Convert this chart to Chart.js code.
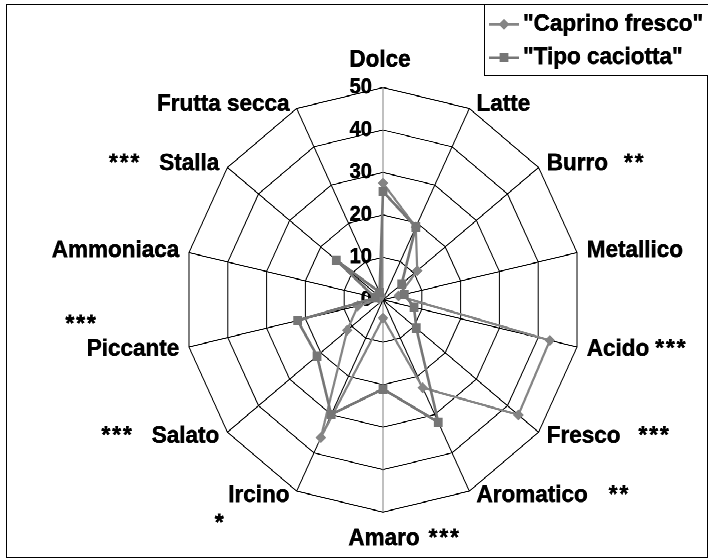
<!DOCTYPE html>
<html>
<head>
<meta charset="utf-8">
<script src="https://cdn.jsdelivr.net/npm/chart.js@4.4.1/dist/chart.umd.min.js"></script>
<style>
html, body { margin: 0; padding: 0; background: #fff; overflow: hidden; }
#wrap { position: absolute; left: 0; top: 0; width: 708px; height: 523px;
        transform: scaleY(1.066922); transform-origin: 0 0; background: #fff; }
canvas { display: block; }
</style>
</head>
<body>
<div id="wrap"><canvas id="c" width="708" height="523"></canvas></div>
<script>
// ---- data ----
const categories = ["Dolce", "Latte", "Burro", "Metallico", "Acido", "Fresco", "Aromatico",
                    "Amaro", "Ircino", "Salato", "Piccante", "Ammoniaca", "Stalla", "Frutta secca"];
const significance = ["", "", "**", "", "***", "***", "**", "***", "*", "***", "***", "", "***", ""];
const seriesNames = ['"Caprino fresco"', '"Tipo caciotta"'];
const caprinoFresco = [27.5, 19, 11, 4, 43, 43.5, 23, 4.3, 36, 11.5, 6.5, 1, 2, 1];
const tipoCaciotta  = [25.5, 19, 6, 5.5, 8, 10.7, 32, 21, 30, 21.2, 22, 2, 15, 2];
const tickValues = [0, 10, 20, 30, 40, 50];
const tickLabels = ["0", "10", "20", "30", "40", "50"];

// ---- styling ----
const FAMILY = '"Liberation Sans", Arial, Helvetica, sans-serif';
const LABEL_FONT = 'bold 22.5px ' + FAMILY;
const TICK_SIZE = 20;
const COLORS = ['#858585', '#767676'];

const mctx = document.createElement('canvas').getContext('2d');
mctx.font = 'bold ' + TICK_SIZE + 'px ' + FAMILY;
function padTick(label) {
  const w = mctx.measureText(label).width;
  const sp = mctx.measureText(' ').width;
  const n = Math.max(0, Math.round((w + 23) / sp));
  return label + ' '.repeat(n);
}

const MARK_GAP = { "Burro": 16, "Acido": 6, "Fresco": 18, "Aromatico": 21, "Amaro": 9, "Salato": 18, "Stalla": 18 };
const MARK_PLACE = { "Piccante": "above", "Ircino": "below" };

function boldText(ctx, txt, x, y) {
  ctx.fillText(txt, x, y);
  ctx.strokeText(txt, x, y);
}

const overlay = {
  id: 'overlay',
  afterDraw(chart) {
    const s = chart.scales.r;
    const ctx = chart.ctx;
    ctx.save();
    // outer frame
    ctx.strokeStyle = '#000';
    ctx.lineWidth = 1;
    ctx.strokeRect(6.5, 4.5, 701, 518);

    // category labels + significance marks
    ctx.fillStyle = '#000';
    ctx.strokeStyle = '#000';
    ctx.lineWidth = 0.5;
    ctx.font = LABEL_FONT;
    ctx.textBaseline = 'middle';
    ctx.textAlign = 'left';
    const markWidth = (m) => {
      ctx.letterSpacing = '2px';
      const w = ctx.measureText(m).width;
      ctx.letterSpacing = '0px';
      return w;
    };
    const drawMark = (m, x, y) => {
      ctx.letterSpacing = '2px';
      boldText(ctx, m, x, y);
      ctx.letterSpacing = '0px';
    };
    categories.forEach((name, i) => {
      const th = s.getIndexAngle(i);
      const p = s.getPointPosition(i, s.drawingArea);
      const sx = Math.sin(th), cy = -Math.cos(th);
      const mark = significance[i];
      const w = ctx.measureText(name).width;
      const mw = mark ? markWidth(mark) : 0;
      const gap = MARK_GAP[name] !== undefined ? MARK_GAP[name] : 16;
      let left, y;
      if (Math.abs(sx) < 0.01) {
        y = p.y + (cy < 0 ? -25.5 : 25);
        left = p.x - w / 2 + (cy < 0 ? -3 : 1);
        boldText(ctx, name, left, y);
        if (mark) drawMark(mark, left + w + gap, y);
      } else {
        const dx = 7 + 3 * Math.pow(Math.abs(sx), 4);
        const dy = Math.sign(cy) * Math.min(3.8, 9 * Math.abs(cy));
        y = p.y + dy;
        if (sx > 0) {
          left = p.x + dx;
          boldText(ctx, name, left, y);
          if (mark) drawMark(mark, left + w + gap, y);
        } else {
          left = p.x - dx - w;
          boldText(ctx, name, left, y);
          if (mark) {
            const place = MARK_PLACE[name];
            if (place === 'above') drawMark(mark, left + 11 - mw, y - 23);
            else if (place === 'below') drawMark(mark, left - 8 - mw / 2, y + 26.7);
            else drawMark(mark, left - gap - mw, y);
          }
        }
      }
    });

    // legend box
    ctx.strokeStyle = '#000';
    ctx.lineWidth = 1;
    ctx.fillStyle = '#fff';
    ctx.fillRect(484.5, 4.5, 240, 66);
    ctx.strokeRect(484.5, 4.5, 240, 66);
    const rowsY = [22.8, 54];
    chart.data.datasets.forEach((ds, k) => {
      const yy = rowsY[k];
      ctx.strokeStyle = ds.borderColor;
      ctx.lineWidth = ds.borderWidth;
      ctx.beginPath();
      ctx.moveTo(489, yy);
      ctx.lineTo(519, yy);
      ctx.stroke();
      ctx.fillStyle = ds.pointBackgroundColor;
      ctx.strokeStyle = ds.pointBorderColor;
      ctx.lineWidth = 1;
      Chart.helpers.drawPoint(ctx, { pointStyle: ds.pointStyle, radius: ds.pointRadius, rotation: 0, borderWidth: 1 }, 504, yy);
      ctx.fillStyle = '#000';
      ctx.strokeStyle = '#000';
      ctx.lineWidth = 0.5;
      ctx.font = LABEL_FONT;
      ctx.textAlign = 'left';
      ctx.textBaseline = 'middle';
      boldText(ctx, ds.label, 523, yy);
    });
    ctx.restore();
  }
};

new Chart(document.getElementById('c'), {
  type: 'radar',
  data: {
    labels: categories,
    datasets: [
      {
        label: seriesNames[0], data: caprinoFresco, order: 2,
        borderColor: COLORS[0], borderWidth: 2.2, fill: false, tension: 0,
        pointStyle: 'rectRot', pointRadius: 4.5,
        pointBackgroundColor: COLORS[0], pointBorderColor: COLORS[0], pointBorderWidth: 1
      },
      {
        label: seriesNames[1], data: tipoCaciotta, order: 1,
        borderColor: COLORS[1], borderWidth: 2.6, fill: false, tension: 0,
        pointStyle: 'rect', pointRadius: 5.5,
        pointBackgroundColor: COLORS[1], pointBorderColor: COLORS[1], pointBorderWidth: 1
      }
    ]
  },
  options: {
    responsive: false,
    devicePixelRatio: 2,
    animation: false,
    layout: { padding: { left: 174, right: 116, top: 72, bottom: 33 } },
    plugins: { legend: { display: false }, tooltip: { enabled: false } },
    scales: {
      r: {
        min: 0, max: 50,
        startAngle: 0,
        afterBuildTicks: (scale) => {
          scale.ticks = [{ value: tickValues[0] }].concat(tickValues.map(v => ({ value: v })));
        },
        ticks: {
          display: true,
          color: '#000',
          textStrokeColor: '#000',
          textStrokeWidth: 0.5,
          font: { family: FAMILY, size: TICK_SIZE, weight: 'bold' },
          showLabelBackdrop: false,
          backdropPadding: 0,
          callback: (value) => {
            const j = tickValues.indexOf(value);
            return padTick(j >= 0 ? tickLabels[j] : String(value));
          }
        },
        grid: { color: '#000', lineWidth: 1, circular: false },
        angleLines: {
          color: (c) => (c.index === 0 || c.index === 7) ? '#808080' : '#000',
          lineWidth: 1
        },
        pointLabels: { display: false }
      }
    }
  },
  plugins: [overlay]
});
</script>
</body>
</html>
